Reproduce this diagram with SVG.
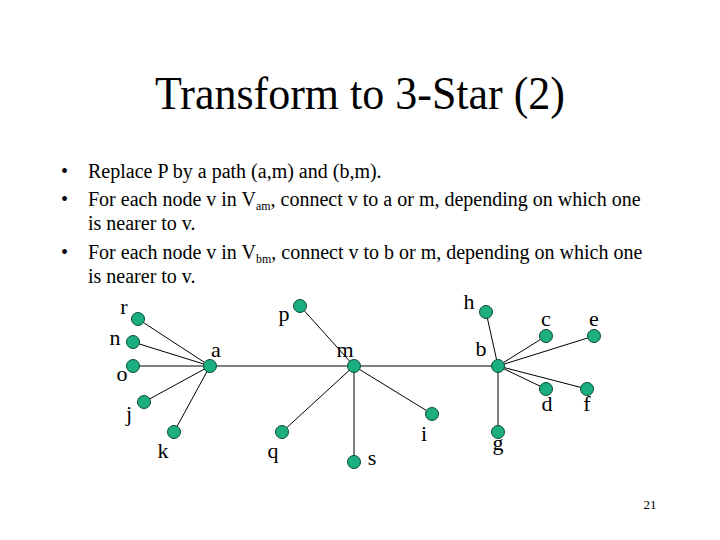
<svg xmlns="http://www.w3.org/2000/svg" width="720" height="540" viewBox="0 0 720 540">
<style>
text{font-family:"Liberation Serif","Times New Roman",serif;fill:#000}
.t{font-size:46px}
.b{font-size:20px}
.s{font-size:12px}
.l{font-size:22px}
.pg{font-size:13px}
.e{stroke:#000;stroke-width:1;fill:none}
.n circle{fill:#1aae80;stroke:#0b4d36;stroke-width:1}
</style>
<rect width="720" height="540" fill="#fff"/>
<text class="t" x="360" y="109" text-anchor="middle" textLength="410" lengthAdjust="spacingAndGlyphs">Transform to 3-Star (2)</text>
<g id="bullets">
<text class="b" x="61" y="178">•</text>
<text class="b" x="88" y="178">Replace P by a path (a,m) and (b,m).</text>
<text class="b" x="61" y="206">•</text>
<text class="b" x="88" y="206">For each node v in V<tspan class="s" dy="4">am</tspan><tspan dy="-4">, connect v to a or m, depending on which one</tspan></text>
<text class="b" x="88" y="230">is nearer to v.</text>
<text class="b" x="61" y="259">•</text>
<text class="b" x="88" y="259">For each node v in V<tspan class="s" dy="4">bm</tspan><tspan dy="-4">, connect v to b or m, depending on which one</tspan></text>
<text class="b" x="88" y="283">is nearer to v.</text>
</g>
<g id="connectors">
<line class="e" x1="210" y1="366" x2="138" y2="319"/>
<line class="e" x1="210" y1="366" x2="133" y2="342"/>
<line class="e" x1="210" y1="366" x2="133" y2="366"/>
<line class="e" x1="210" y1="366" x2="144" y2="402"/>
<line class="e" x1="210" y1="366" x2="174" y2="432"/>
<line class="e" x1="210" y1="366" x2="354" y2="366"/>
<line class="e" x1="354" y1="366" x2="300" y2="306"/>
<line class="e" x1="354" y1="366" x2="282" y2="432"/>
<line class="e" x1="354" y1="366" x2="354" y2="462"/>
<line class="e" x1="354" y1="366" x2="432" y2="414"/>
<line class="e" x1="354" y1="366" x2="498" y2="366"/>
<line class="e" x1="498" y1="366" x2="486" y2="312"/>
<line class="e" x1="498" y1="366" x2="546" y2="336"/>
<line class="e" x1="498" y1="366" x2="594" y2="336"/>
<line class="e" x1="498" y1="366" x2="546" y2="389"/>
<line class="e" x1="498" y1="366" x2="587" y2="389"/>
<line class="e" x1="498" y1="366" x2="498" y2="432"/>
</g>
<g id="node-r" class="n"><circle cx="138" cy="319" r="6.5"/><text class="l" x="124" y="314" text-anchor="middle">r</text></g>
<g id="node-n" class="n"><circle cx="133" cy="342" r="6.5"/><text class="l" x="115" y="345" text-anchor="middle">n</text></g>
<g id="node-o" class="n"><circle cx="133" cy="366" r="6.5"/><text class="l" x="122" y="381" text-anchor="middle">o</text></g>
<g id="node-j" class="n"><circle cx="144" cy="402" r="6.5"/><text class="l" x="129" y="421" text-anchor="middle">j</text></g>
<g id="node-k" class="n"><circle cx="174" cy="432" r="6.5"/><text class="l" x="163" y="458" text-anchor="middle">k</text></g>
<g id="node-a" class="n"><circle cx="210" cy="366" r="6.5"/><text class="l" x="216" y="357" text-anchor="middle">a</text></g>
<g id="node-p" class="n"><circle cx="300" cy="306" r="6.5"/><text class="l" x="284" y="321" text-anchor="middle">p</text></g>
<g id="node-m" class="n"><circle cx="354" cy="366" r="6.5"/><text class="l" x="345" y="357" text-anchor="middle">m</text></g>
<g id="node-q" class="n"><circle cx="282" cy="432" r="6.5"/><text class="l" x="273" y="458" text-anchor="middle">q</text></g>
<g id="node-s" class="n"><circle cx="354" cy="462" r="6.5"/><text class="l" x="372" y="465" text-anchor="middle">s</text></g>
<g id="node-i" class="n"><circle cx="432" cy="414" r="6.5"/><text class="l" x="424" y="441" text-anchor="middle">i</text></g>
<g id="node-h" class="n"><circle cx="486" cy="312" r="6.5"/><text class="l" x="469" y="309" text-anchor="middle">h</text></g>
<g id="node-b" class="n"><circle cx="498" cy="366" r="6.5"/><text class="l" x="481" y="356" text-anchor="middle">b</text></g>
<g id="node-c" class="n"><circle cx="546" cy="336" r="6.5"/><text class="l" x="546" y="326" text-anchor="middle">c</text></g>
<g id="node-e" class="n"><circle cx="594" cy="336" r="6.5"/><text class="l" x="594" y="326" text-anchor="middle">e</text></g>
<g id="node-d" class="n"><circle cx="546" cy="389" r="6.5"/><text class="l" x="547" y="411" text-anchor="middle">d</text></g>
<g id="node-f" class="n"><circle cx="587" cy="389" r="6.5"/><text class="l" x="587" y="411" text-anchor="middle">f</text></g>
<g id="node-g" class="n"><circle cx="498" cy="432" r="6.5"/><text class="l" x="498" y="450" text-anchor="middle">g</text></g>
<text class="pg" x="650" y="509" text-anchor="middle">21</text>
</svg>
